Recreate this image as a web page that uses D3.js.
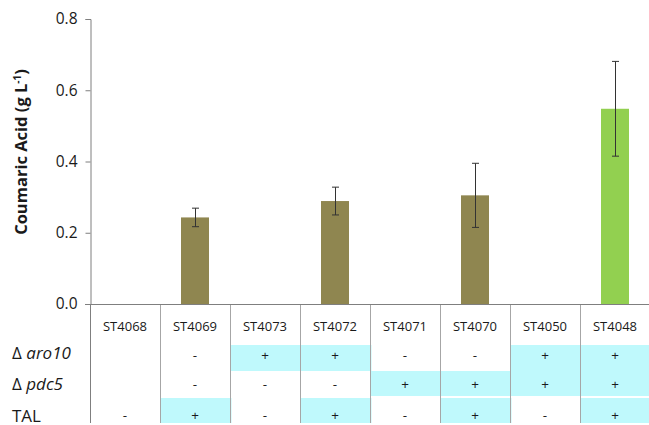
<!DOCTYPE html>
<html>
<head>
<meta charset="utf-8">
<script src="https://cdn.jsdelivr.net/npm/d3@7"></script>
<style>
  html, body { margin: 0; padding: 0; background: #fff; }
  svg { display: block; }
  text { font-family: "Open Sans", "Liberation Sans", sans-serif; fill: #1a1a1a; }
</style>
</head>
<body>
<svg id="chart" width="649" height="425"></svg>
<script>
// Strains and their coumaric acid titres (g/L) with standard deviations
const strains = ["ST4068", "ST4069", "ST4073", "ST4072", "ST4071", "ST4070", "ST4050", "ST4048"];
const titre = [0, 0.243, 0, 0.289, 0, 0.305, 0, 0.548];
const stdev = [0, 0.026, 0, 0.039, 0, 0.090, 0, 0.133];
const barColor = ["#8f8650", "#8f8650", "#8f8650", "#8f8650", "#8f8650", "#8f8650", "#8f8650", "#92d050"];

// Genotype table rows
const aro10 = ["", "-", "+", "+", "-", "-", "+", "+"];
const pdc5 = ["", "-", "-", "-", "+", "+", "+", "+"];
const tal = ["-", "+", "-", "+", "-", "+", "-", "+"];
const yTicks = [0, 0.2, 0.4, 0.6, 0.8];

const svg = d3.select("#chart");

const x = d3.scaleBand().domain(strains).range([90, 650]);
const y = d3.scaleLinear().domain([0, 0.8]).range([304, 19]);

// Genotype table: highlighted "+" cells
const rows = [
  { vals: aro10, top: 345, bottom: 371, cy: 355 },
  { vals: pdc5, top: 371, bottom: 396, cy: 384 },
  { vals: tal, top: 398, bottom: 423, cy: 415 }
];

rows.forEach(r => {
  svg.append("g").selectAll("rect")
    .data(strains.map((s, i) => ({ s, v: r.vals[i] })).filter(d => d.v === "+"))
    .join("rect")
    .attr("x", d => x(d.s))
    .attr("width", x.bandwidth() + 1.5)
    .attr("y", r.top)
    .attr("height", r.bottom - r.top)
    .attr("fill", "#bff9fc");
});

// Column dividers
svg.append("g").selectAll("line")
  .data(strains)
  .join("line")
  .attr("x1", d => Math.round(x(d)) + 0.5)
  .attr("x2", d => Math.round(x(d)) + 0.5)
  .attr("y1", 304).attr("y2", 423)
  .attr("stroke", (d, i) => i === 0 ? "#7f7f7f" : "#a6a6a6")
  .attr("stroke-width", 1);

// Strain names
svg.append("g").selectAll("text")
  .data(strains)
  .join("text")
  .attr("x", d => x(d) + x.bandwidth() / 2)
  .attr("y", 326)
  .attr("text-anchor", "middle")
  .attr("dominant-baseline", "central")
  .attr("font-size", 13)
  .text(d => d);

// Table symbols
rows.forEach(r => {
  svg.append("g").selectAll("text")
    .data(strains.map((s, i) => ({ s, v: r.vals[i] })).filter(d => d.v !== ""))
    .join("text")
    .attr("x", d => x(d.s) + x.bandwidth() / 2)
    .attr("y", r.cy)
    .attr("text-anchor", "middle")
    .attr("dominant-baseline", "central")
    .attr("font-size", 13.5)
    .text(d => d.v);
});

// Row labels
const lab = svg.append("g").attr("font-size", 17);
const t1 = lab.append("text").attr("x", 12).attr("y", 352).attr("dominant-baseline", "central");
t1.append("tspan").text("Δ ");
t1.append("tspan").attr("font-style", "italic").text("aro10");
const t2 = lab.append("text").attr("x", 12).attr("y", 383).attr("dominant-baseline", "central");
t2.append("tspan").text("Δ ");
t2.append("tspan").attr("font-style", "italic").text("pdc5");
lab.append("text").attr("x", 12).attr("y", 415).attr("dominant-baseline", "central").text("TAL");

// Bars
svg.append("g").selectAll("rect")
  .data(strains.map((s, i) => ({ s, v: titre[i], c: barColor[i] })).filter(d => d.v > 0))
  .join("rect")
  .attr("x", d => x(d.s) + x.bandwidth() * 0.3)
  .attr("width", x.bandwidth() * 0.4)
  .attr("y", d => y(d.v))
  .attr("height", d => y(0) - y(d.v))
  .attr("fill", d => d.c);

// Error bars
const eb = svg.append("g").attr("stroke", "#333").attr("stroke-width", 1);
strains.forEach((s, i) => {
  if (stdev[i] <= 0) return;
  const cx = Math.round(x(s) + x.bandwidth() / 2) + 0.5;
  const hi = y(titre[i] + stdev[i]);
  const lo = y(titre[i] - stdev[i]);
  eb.append("line").attr("x1", cx).attr("x2", cx).attr("y1", hi).attr("y2", lo);
  eb.append("line").attr("x1", cx - 3.5).attr("x2", cx + 3.5).attr("y1", hi).attr("y2", hi);
  eb.append("line").attr("x1", cx - 3.5).attr("x2", cx + 3.5).attr("y1", lo).attr("y2", lo);
});

// Y axis
const yAxis = d3.axisLeft(y).tickValues(yTicks).tickFormat(d3.format(".1f")).tickSize(5).tickPadding(8);
const ya = svg.append("g").attr("transform", "translate(90.5,0)").call(yAxis);
ya.select(".domain").attr("stroke", "#7f7f7f");
ya.selectAll(".tick line").attr("stroke", "#7f7f7f");
ya.selectAll(".tick text").attr("font-size", 15.5).attr("fill", "#1a1a1a")
  .style("font-family", "'Open Sans', sans-serif");

// X baseline
svg.append("line")
  .attr("x1", 85).attr("x2", 649)
  .attr("y1", y(0) + 0.5).attr("y2", y(0) + 0.5)
  .attr("stroke", "#7f7f7f");

// Axis title
svg.append("text")
  .attr("transform", "translate(27,152) rotate(-90)")
  .attr("text-anchor", "middle")
  .attr("font-size", 16.5)
  .attr("font-weight", "bold")
  .call(t => {
    t.append("tspan").text("Coumaric Acid (g L");
    t.append("tspan").attr("font-size", 10).attr("dy", -6).text("-1");
    t.append("tspan").attr("dy", 6).text(")");
  });
</script>
</body>
</html>
